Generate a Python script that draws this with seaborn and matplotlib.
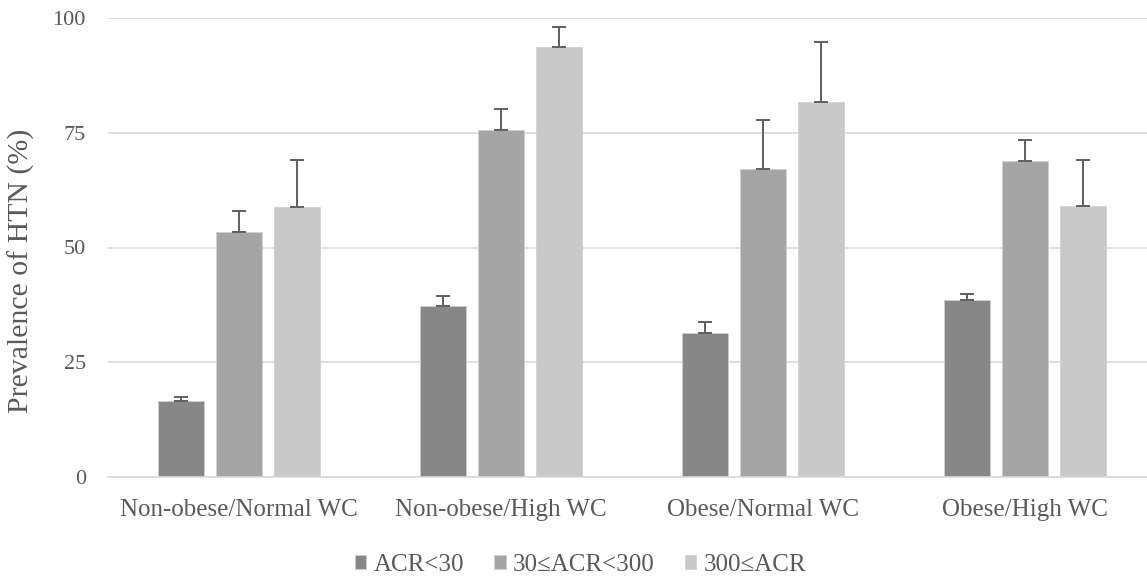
import numpy as np
import pandas as pd
import matplotlib
matplotlib.use("Agg")
import matplotlib.pyplot as plt
import seaborn as sns

groups = ["Non-obese/Normal WC", "Non-obese/High WC", "Obese/Normal WC", "Obese/High WC"]
levels = ["ACR<30", "30≤ACR<300", "300≤ACR"]
acr_low = [16.6, 37.3, 31.4, 38.6]
acr_mid = [53.4, 75.6, 67.1, 68.8]
acr_high = [58.8, 93.7, 81.7, 59.0]
err_low = [0.8, 2.1, 2.4, 1.3]
err_mid = [4.5, 4.6, 10.7, 4.6]
err_high = [10.2, 4.3, 13.1, 10.0]
colors = ["#878787", "#a5a5a5", "#c9c9c9"]

df = pd.DataFrame({
    "group": groups * 3,
    "level": [lv for lv in levels for _ in groups],
    "value": acr_low + acr_mid + acr_high,
})
errs = [err_low, err_mid, err_high]

sns.set_theme(style="white")
plt.rcParams["font.family"] = ["Liberation Serif", "DejaVu Serif"]
text_col = "#595959"

fig = plt.figure(figsize=(11.47, 5.77), dpi=100)
W, H = 1147, 577
ax = fig.add_axes([108 / W, (H - 477) / H, (W - 108) / W, 459 / H])

sns.barplot(data=df, x="group", y="value", hue="level", order=groups, hue_order=levels,
            palette=colors, width=0.664, gap=0.2, edgecolor="#d0d0d0", linewidth=0.6,
            errorbar=None, ax=ax)

# upward-only error bars on top of each bar
for cont, e in zip(ax.containers, errs):
    xs = [p.get_x() + p.get_width() / 2 for p in cont.patches]
    ys = [p.get_height() for p in cont.patches]
    ax.errorbar(xs, ys, yerr=[np.zeros(len(e)), e], fmt="none", ecolor="#5f5f5f",
                elinewidth=1.4, capsize=5, capthick=1.4, zorder=3)

ax.set_ylim(0, 100)
ax.set_xlim(-0.5, -0.5 + (W - 108) / 262)
ax.set_yticks([0, 25, 50, 75, 100])
ax.yaxis.grid(True, color="#d9d9d9", linewidth=1.2)
ax.set_axisbelow(True)
for s in ["top", "right", "left"]:
    ax.spines[s].set_visible(False)
ax.spines["bottom"].set_color("#d9d9d9")
ax.spines["bottom"].set_linewidth(1.2)
ax.tick_params(axis="y", length=0, pad=16, labelsize=16, labelcolor=text_col)
ax.tick_params(axis="x", length=0, pad=16, labelsize=18, labelcolor=text_col)
ax.set_xlabel("")
ax.set_ylabel("Prevalence of HTN (%)", fontsize=21.5, color=text_col)
ax.yaxis.set_label_coords((35 - 108) / 1039, 0.449)

sns.move_legend(ax, "center", bbox_to_anchor=(0.455, (477 - 565) / 459), ncol=3,
                frameon=False, title=None, fontsize=18, handlelength=0.45, handleheight=0.45,
                handletextpad=0.3, columnspacing=1.2)
for t in ax.get_legend().get_texts():
    t.set_color(text_col)

fig.savefig("out.png", dpi=100)
